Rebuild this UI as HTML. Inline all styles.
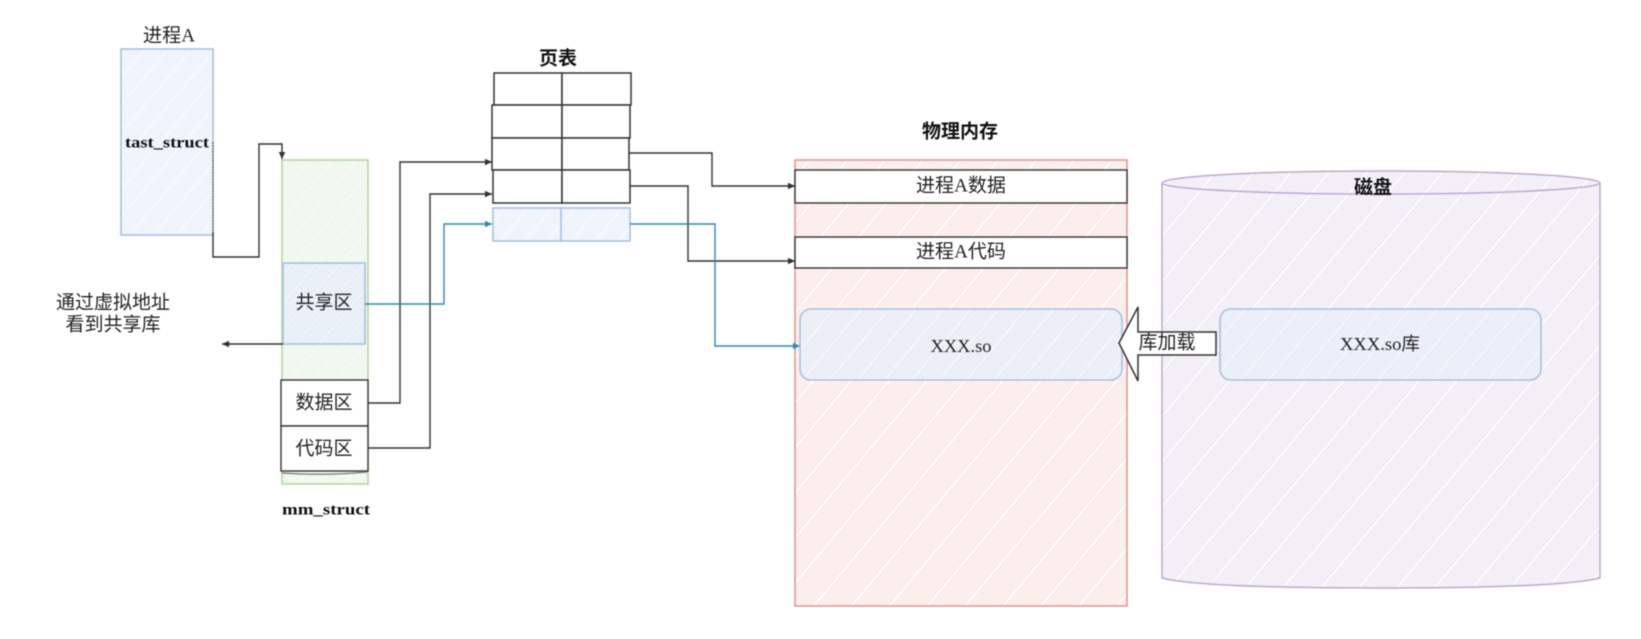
<!DOCTYPE html>
<html><head><meta charset="utf-8">
<style>
html,body{margin:0;padding:0;background:#fff;width:1641px;height:639px;overflow:hidden}
svg{display:block;filter:blur(.55px)}
text{font-family:"Liberation Serif","Noto Sans CJK SC",serif;fill:#222;text-anchor:middle;dominant-baseline:central}
.b{font-weight:bold;fill:#111}
.k{fill:none;stroke:#333;stroke-width:1.4}
.u{fill:none;stroke:#2b8cb0;stroke-width:1.4}
</style></head><body>
<svg width="1641" height="639" viewBox="0 0 1641 639" xmlns="http://www.w3.org/2000/svg">
<defs>
<pattern id="hb" width="18" height="18" patternUnits="userSpaceOnUse" patternTransform="rotate(40)"><rect width="18" height="18" fill="#edf3fb"/><path d="M2 0V18M5 0V18M8 0V18M11 0V18M14 0V18" stroke="#f6f9fd" stroke-width="1"/><rect x="16" width="1.4" height="18" fill="#fbfcfe"/></pattern>
<pattern id="hg" width="18" height="18" patternUnits="userSpaceOnUse" patternTransform="rotate(40)"><rect width="18" height="18" fill="#eef6ed"/><path d="M2 0V18M5 0V18M8 0V18M11 0V18M14 0V18" stroke="#f7fbf6" stroke-width="1"/><rect x="16" width="1.4" height="18" fill="#fbfdfa"/></pattern>
<pattern id="hr" width="29" height="29" patternUnits="userSpaceOnUse" patternTransform="rotate(40)"><rect width="29" height="29" fill="#fcecea"/><path d="M2 0V29M5 0V29M8 0V29M11 0V29M14 0V29M17 0V29M20 0V29M23 0V29" stroke="#fdf3f2" stroke-width="1"/><rect x="26" width="1.8" height="29" fill="#fff"/></pattern>
<pattern id="hp" width="29" height="29" patternUnits="userSpaceOnUse" patternTransform="rotate(40)"><rect width="29" height="29" fill="#f1eef6"/><path d="M2 0V29M5 0V29M8 0V29M11 0V29M14 0V29M17 0V29M20 0V29M23 0V29" stroke="#f6f4fa" stroke-width="1"/><rect x="26" width="1.8" height="29" fill="#fdfcfe"/></pattern>
<pattern id="hv" width="21" height="21" patternUnits="userSpaceOnUse" patternTransform="rotate(40)"><rect width="21" height="21" fill="#eceef6"/><path d="M3 0V21M7 0V21M11 0V21M15 0V21" stroke="#f1f2f8" stroke-width="1"/><rect x="18" width="1.4" height="21" fill="#f8f7fb"/></pattern>
<pattern id="hw" width="21" height="21" patternUnits="userSpaceOnUse" patternTransform="rotate(40)"><rect width="21" height="21" fill="#e9eef8"/><path d="M3 0V21M7 0V21M11 0V21M15 0V21" stroke="#eef2fa" stroke-width="1"/><rect x="18" width="1.4" height="21" fill="#f6f7fb"/></pattern>
<pattern id="hs" width="18" height="18" patternUnits="userSpaceOnUse" patternTransform="rotate(40)"><rect width="18" height="18" fill="#e8eff6"/><path d="M3 0V18M7 0V18M11 0V18" stroke="#edf3f8" stroke-width="1"/><rect x="15" width="1.4" height="18" fill="#f2f6f8"/></pattern>
<marker id="ak" markerUnits="userSpaceOnUse" markerWidth="8" markerHeight="8" refX="7" refY="4" orient="auto"><path d="M0 .7L7 4L0 7.3z" fill="#333"/></marker>
<marker id="au" markerUnits="userSpaceOnUse" markerWidth="8" markerHeight="8" refX="7" refY="4" orient="auto"><path d="M0 .7L7 4L0 7.3z" fill="#2b8cb0"/></marker>
</defs>

<!-- process A -->
<text x="169" y="36" font-size="19" textLength="52" lengthAdjust="spacingAndGlyphs">进程A</text>
<rect x="121" y="49" width="92" height="186" fill="url(#hb)" stroke="#a9c0de" stroke-width="1.6"/>
<text class="b" x="167" y="143" font-size="16" textLength="84" lengthAdjust="spacingAndGlyphs">tast_struct</text>
<path d="M213 142V232" fill="none" stroke="#555" stroke-width="1.2" stroke-dasharray="2 1"/>
<path class="k" marker-end="url(#ak)" d="M213 232V257H259V144H282V159"/>

<!-- mm_struct -->
<rect x="282" y="160" width="86" height="324" fill="url(#hg)" stroke="#b5d5a6" stroke-width="1.6"/>
<rect x="283" y="263" width="82" height="81" fill="url(#hs)" stroke="#a9c0de" stroke-width="1.6"/>
<text x="324" y="303" font-size="19">共享区</text>
<rect x="281" y="380" width="87" height="46" fill="#fff" stroke="#333" stroke-width="1.4"/>
<text x="324" y="403" font-size="19">数据区</text>
<rect x="281" y="426" width="87" height="45" fill="#fff" stroke="#333" stroke-width="1.4"/>
<path d="M282 473Q324 476 367 472" fill="none" stroke="#777" stroke-width="1.2"/>
<text x="324" y="449" font-size="19">代码区</text>
<text class="b" x="326" y="510" font-size="16" textLength="88" lengthAdjust="spacingAndGlyphs">mm_struct</text>

<!-- left label -->
<text x="113" y="303" font-size="19">通过虚拟地址</text>
<text x="113" y="325" font-size="19">看到共享库</text>
<path class="k" marker-end="url(#ak)" d="M283 344H222"/>

<!-- connectors to page table -->
<path class="k" marker-end="url(#ak)" d="M368 403H400V162H492"/>
<path class="k" marker-end="url(#ak)" d="M368 448H430V194H492"/>
<path class="u" marker-end="url(#au)" d="M365 304H444V224H492"/>

<!-- page table -->
<text class="b" x="558" y="59" font-size="19">页表</text>
<g fill="#fff" stroke="#333" stroke-width="1.5">
<rect x="494" y="73" width="68" height="32"/><rect x="562" y="73" width="69" height="32"/>
<rect x="492" y="105" width="70" height="33"/><rect x="562" y="105" width="68" height="33"/>
<rect x="492" y="138" width="70" height="32"/><rect x="562" y="138" width="67" height="32"/>
<rect x="493" y="170" width="69" height="33"/><rect x="562" y="170" width="68" height="33"/>
</g>
<g fill="url(#hb)" stroke="#a9c0de" stroke-width="1.6">
<rect x="493" y="208" width="69" height="33"/><rect x="561" y="208" width="69" height="33"/>
</g>

<!-- physical memory -->
<text class="b" x="960" y="132" font-size="19">物理内存</text>
<rect x="795" y="160" width="332" height="446" fill="url(#hr)" stroke="#dc9a96" stroke-width="1.6"/>
<rect x="795" y="170" width="332" height="33" fill="#fff" stroke="#333" stroke-width="1.4"/>
<text x="961" y="186" font-size="19" textLength="90" lengthAdjust="spacingAndGlyphs">进程A数据</text>
<rect x="795" y="237" width="332" height="31" fill="#fff" stroke="#333" stroke-width="1.4"/>
<text x="961" y="252" font-size="19" textLength="90" lengthAdjust="spacingAndGlyphs">进程A代码</text>

<!-- page table to memory -->
<path class="k" marker-end="url(#ak)" d="M629 153H712V186H795"/>
<path class="k" marker-end="url(#ak)" d="M630 186H688V261H795"/>
<path class="u" marker-end="url(#au)" d="M630 224H715V346H800"/>

<!-- disk -->
<path d="M1162 183A219 12 0 0 1 1600 183V578Q1560 588 1381 588Q1200 588 1162 578Z" fill="url(#hp)" stroke="#c0a8d0" stroke-width="1.5"/>
<path d="M1162 183A219 11 0 0 0 1600 183" fill="none" stroke="#c0a8d0" stroke-width="1.5"/>
<text class="b" x="1373" y="188" font-size="19">磁盘</text>

<!-- so boxes -->
<rect x="800" y="309" width="322" height="71" rx="11" fill="url(#hv)" stroke="#a9c0de" stroke-width="1.6"/>
<text x="961" y="346" font-size="18" textLength="61" lengthAdjust="spacingAndGlyphs">XXX.so</text>
<rect x="1220" y="309" width="321" height="71" rx="11" fill="url(#hw)" stroke="#a9c0de" stroke-width="1.6"/>
<text x="1380" y="344" font-size="18" textLength="80" lengthAdjust="spacingAndGlyphs">XXX.so库</text>

<!-- load arrow -->
<path d="M1119 343L1138 307V332H1216V355H1138V381Z" fill="#fff" stroke="#333" stroke-width="1.5" stroke-linejoin="miter"/>
<text x="1167" y="343" font-size="19">库加载</text>
</svg>
</body></html>
